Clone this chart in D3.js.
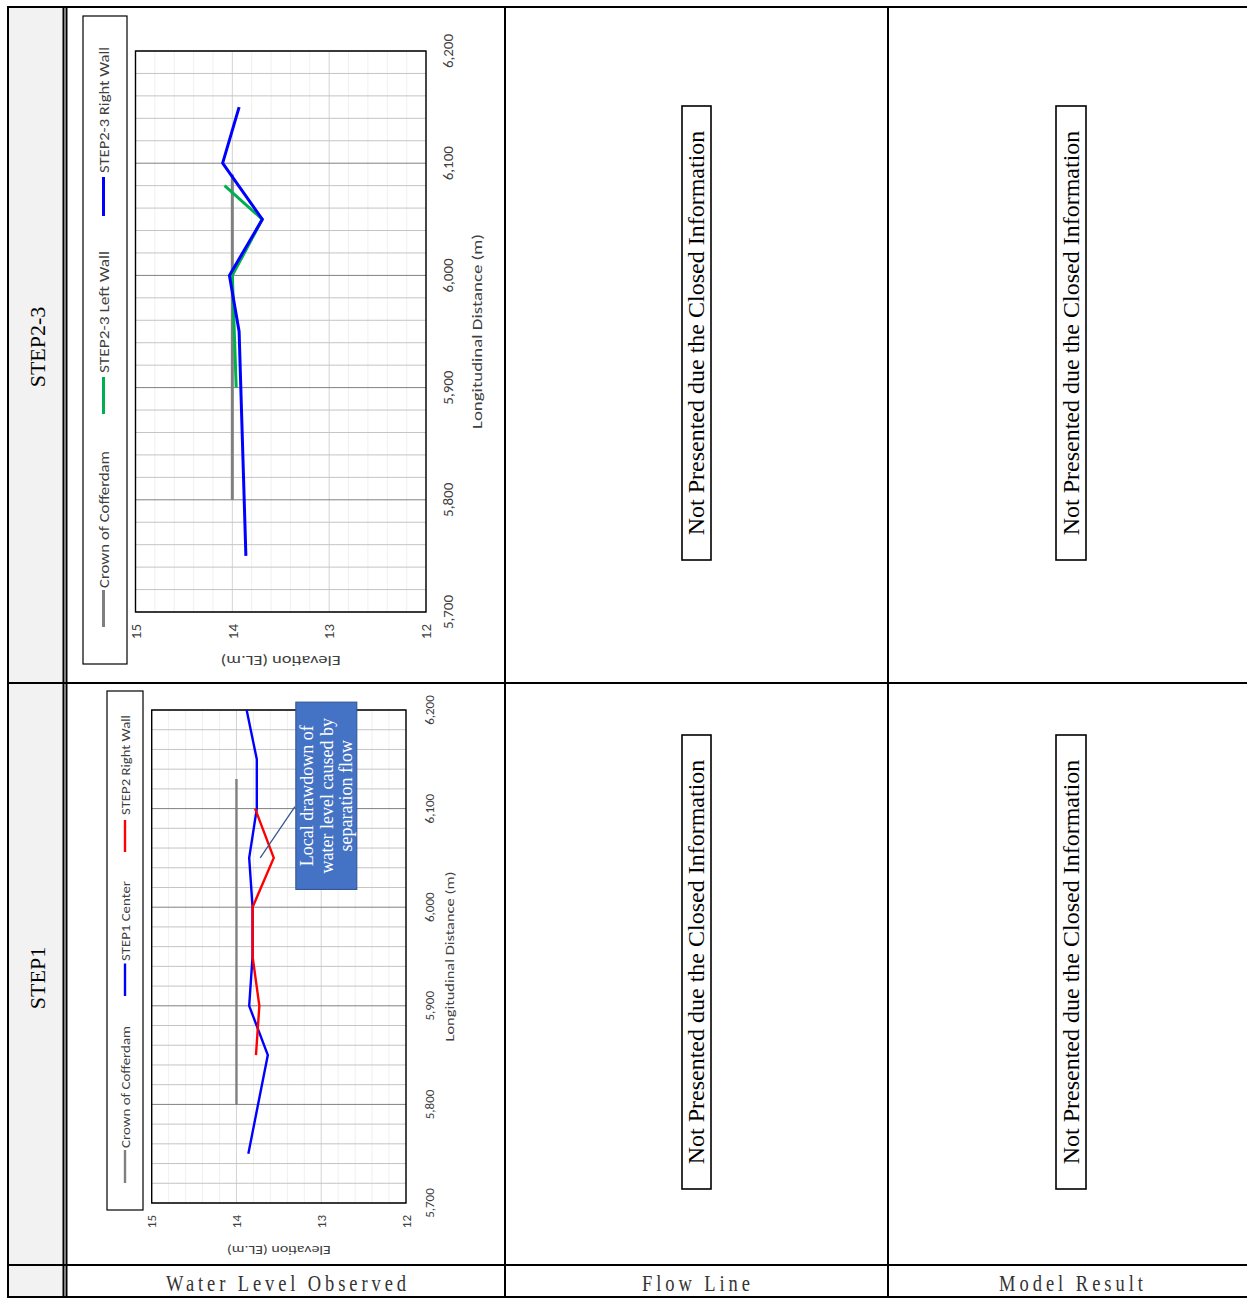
<!DOCTYPE html>
<html>
<head>
<meta charset="utf-8">
<script src="https://cdn.jsdelivr.net/npm/d3@7"></script>
<style>
body { margin: 0; background: #fff; }
svg { display: block; }
</style>
</head>
<body>
<div id="container"></div>
<script>
////////// DATA

var distTicks = [5700, 5800, 5900, 6000, 6100, 6200]; // longitudinal distance (m)
var elevTicks = [12, 13, 14, 15]; // elevation (EL.m)

// STEP2-3 chart: [distance, elevation]
var step23Crown = [[5800, 14.0], [6090, 14.0]];
var step23LeftWall = [[5900, 13.96], [6000, 14.0], [6050, 13.69], [6080, 14.08]];
var step23RightWall = [[5750, 13.86], [5950, 13.93], [6000, 14.03], [6050, 13.69], [6100, 14.1], [6150, 13.93]];
var step23Names = ["Crown of Cofferdam", "STEP2-3 Left Wall", "STEP2-3 Right Wall"];

// STEP1 chart
var step1Crown = [[5800, 14.0], [6130, 14.0]];
var step1Center = [[5750, 13.86], [5850, 13.63], [5900, 13.85], [5950, 13.81], [6000, 13.81], [6050, 13.85], [6100, 13.76], [6150, 13.76], [6200, 13.88]];
var step2RightWall = [[5850, 13.77], [5900, 13.73], [5950, 13.81], [6000, 13.81], [6050, 13.56], [6100, 13.78]];
var step1Names = ["Crown of Cofferdam", "STEP1 Center", "STEP2 Right Wall"];

var noteLines = ["Local drawdown of", "water level caused by", "separation flow"];
var notePoint = [6050, 13.72]; // where the callout points

// table texts
var rowLabels = ["STEP2-3", "STEP1"];
var colLabels = ["Water Level Observed", "Flow Line", "Model Result"];
var closedText = "Not Presented due the Closed Information";

var cGray = "#7f7f7f", cGreen = "#00b050", cBlue = "#0000ff", cRed = "#ff0000";
var chartFont = "Carlito, 'Open Sans', 'Noto Sans', sans-serif";
var serifFont = "'Liberation Serif', 'DejaVu Serif', serif";

////////// TABLE

var svg = d3.select("#container").append("svg")
	.attr("width", 1247)
	.attr("height", 1298);

svg.append("rect") // gray header column
	.attr("x", 8).attr("y", 7)
	.attr("width", 55).attr("height", 1290)
	.attr("fill", "#f2f2f2");

function tableLine(x1, y1, x2, y2)
{
	svg.append("line")
		.attr("x1", x1).attr("y1", y1).attr("x2", x2).attr("y2", y2)
		.style("stroke", "#000")
		.style("stroke-width", 2);
}

////////// CHARTS (drawn unrotated, then turned -90 degrees)

function drawChart(c)
{
	var g = svg.append("g").attr("transform", "translate(" + c.tx + "," + c.ty + ") rotate(-90)");
	var x = d3.scaleLinear().domain([5700, 6200]).range(c.xRange);
	var y = d3.scaleLinear().domain([12, 15]).range(c.yRange);
	var xL = c.xRange[0], xR = c.xRange[1], yT = c.yRange[1], yB = c.yRange[0];
	function isWhole(t, step) { return Math.abs(t / step - Math.round(t / step)) < 1e-6; }

	g.append("rect")
		.attr("x", xL).attr("y", yT).attr("width", xR - xL).attr("height", yB - yT)
		.attr("fill", "#fff");

	// elevation gridlines (0.2 minor, 1 major)
	g.selectAll(".eGrid").data(y.ticks(15)).enter().append("line")
		.attr("class", "eGrid")
		.attr("x1", xL).attr("x2", xR)
		.attr("y1", function(d) { return y(d); })
		.attr("y2", function(d) { return y(d); })
		.style("stroke", function(d) { return isWhole(d, 1) ? "#d4d4d4" : "#f0f0f0"; })
		.style("stroke-width", 1);

	// distance gridlines (20 minor, 100 major)
	g.selectAll(".dGrid").data(x.ticks(25)).enter().append("line")
		.attr("class", "dGrid")
		.attr("y1", yT).attr("y2", yB)
		.attr("x1", function(d) { return x(d); })
		.attr("x2", function(d) { return x(d); })
		.style("stroke", function(d) { return isWhole(d, 100) ? "#808080" : "#c4c4c4"; })
		.style("stroke-width", 1);

	g.append("rect")
		.attr("x", xL).attr("y", yT).attr("width", xR - xL).attr("height", yB - yT)
		.attr("fill", "none")
		.style("stroke", "#000")
		.style("stroke-width", 1.4);

	// series
	var line = d3.line().x(function(d) { return x(d[0]); }).y(function(d) { return y(d[1]); });
	c.series.forEach(function(s)
	{
		g.append("path")
			.attr("d", line(s.data))
			.attr("fill", "none")
			.style("stroke", s.color)
			.style("stroke-width", c.lineW)
			.style("stroke-linejoin", "round");
	});

	// distance tick labels
	g.selectAll(".dLabel").data(distTicks).enter().append("text")
		.attr("class", "dLabel")
		.attr("x", function(d) { return x(d); })
		.attr("y", c.distLabelY)
		.text(d3.format(","))
		.style("font-family", chartFont)
		.style("font-size", c.font + "px")
		.style("fill", "#404040")
		.style("text-anchor", "middle");

	// elevation tick labels
	g.selectAll(".eLabel").data(elevTicks).enter().append("text")
		.attr("class", "eLabel")
		.attr("x", c.elevLabelX)
		.attr("y", function(d) { return y(d); })
		.attr("dy", "0.35em")
		.text(function(d) { return d; })
		.style("font-family", chartFont)
		.style("font-size", c.font + "px")
		.style("fill", "#404040")
		.style("text-anchor", "end");

	// axis titles
	g.append("text")
		.attr("x", (xL + xR) / 2).attr("y", c.distTitleY)
		.attr("textLength", c.distTitleLen).attr("lengthAdjust", "spacingAndGlyphs")
		.text("Longitudinal Distance (m)")
		.style("font-family", chartFont).style("font-size", c.font + "px")
		.style("fill", "#404040").style("text-anchor", "middle");

	g.append("text")
		.attr("transform", "translate(" + c.elevTitleX + "," + ((yT + yB) / 2) + ") rotate(-90)")
		.attr("textLength", c.elevTitleLen).attr("lengthAdjust", "spacingAndGlyphs")
		.text("Elevation (EL.m)")
		.style("font-family", chartFont).style("font-size", c.font + "px")
		.style("fill", "#404040").style("text-anchor", "middle");

	// legend
	var L = c.legend;
	g.append("rect")
		.attr("x", L.x).attr("y", L.y).attr("width", L.w).attr("height", L.h)
		.attr("fill", "#fff")
		.style("stroke", "#000").style("stroke-width", 1.2);
	c.series.forEach(function(s, i)
	{
		var it = L.items[i];
		g.append("line")
			.attr("x1", it[0]).attr("x2", it[1]).attr("y1", L.cy).attr("y2", L.cy)
			.style("stroke", s.color).style("stroke-width", c.lineW);
		g.append("text")
			.attr("x", it[2]).attr("y", L.cy).attr("dy", "0.35em")
			.attr("textLength", it[3]).attr("lengthAdjust", "spacingAndGlyphs")
			.text(s.name)
			.style("font-family", chartFont).style("font-size", c.font + "px")
			.style("fill", "#404040");
	});

	return { g: g, x: x, y: y };
}

// STEP2-3 (top row)
drawChart({
	tx: 67, ty: 683,
	xRange: [71, 632], yRange: [359, 68.5],
	lineW: 3, font: 15,
	distLabelY: 386, elevLabelX: 59,
	distTitleY: 415, distTitleLen: 195,
	elevTitleX: 27, elevTitleLen: 120,
	legend: { x: 19, y: 16, w: 648, h: 44, cy: 36.5,
		items: [[56, 93, 95, 137], [269, 306, 310, 122], [467, 506, 510, 126]] },
	series: [
		{ data: step23Crown, color: cGray, name: step23Names[0] },
		{ data: step23LeftWall, color: cGreen, name: step23Names[1] },
		{ data: step23RightWall, color: cBlue, name: step23Names[2] }]
});

// STEP1 (second row)
var ch1 = drawChart({
	tx: 67, ty: 1265,
	xRange: [62, 555], yRange: [339, 84.7],
	lineW: 2.4, font: 13,
	distLabelY: 367, elevLabelX: 50,
	distTitleY: 387, distTitleLen: 170,
	elevTitleX: 19, elevTitleLen: 104,
	legend: { x: 55, y: 40, w: 519, h: 36, cy: 58,
		items: [[82, 115, 117, 122], [269, 301.5, 304, 80], [413, 445, 450, 100]] },
	series: [
		{ data: step1Crown, color: cGray, name: step1Names[0] },
		{ data: step1Center, color: cBlue, name: step1Names[1] },
		{ data: step2RightWall, color: cRed, name: step1Names[2] }]
});

// callout in the STEP1 chart
(function()
{
	var g = ch1.g, x = ch1.x, y = ch1.y;
	g.append("line")
		.attr("x1", x(6102)).attr("y1", y(13.31))
		.attr("x2", x(notePoint[0])).attr("y2", y(notePoint[1]))
		.style("stroke", "#2f528f").style("stroke-width", 1.2);
	var bx0 = x(6018), bx1 = x(6208), by0 = y(13.30), by1 = y(12.58);
	g.append("rect")
		.attr("x", bx0).attr("y", by0).attr("width", bx1 - bx0).attr("height", by1 - by0)
		.attr("fill", "#4472c4")
		.style("stroke", "#2f528f").style("stroke-width", 1);
	g.selectAll(".note").data(noteLines).enter().append("text")
		.attr("class", "note")
		.attr("x", (bx0 + bx1) / 2)
		.attr("y", function(d, i) { return by0 + 17.5 + i * 19.5; })
		.text(function(d) { return d; })
		.style("font-family", serifFont).style("font-size", "18px")
		.style("fill", "#fff").style("text-anchor", "middle");
})();

////////// TABLE LINES AND TEXTS

tableLine(8, 7, 1247, 7);
tableLine(8, 1297, 1247, 1297);
tableLine(8, 683, 1247, 683);
tableLine(8, 1265, 1247, 1265);
tableLine(8, 6, 8, 1298);
tableLine(63.5, 7, 63.5, 1297);
tableLine(66.5, 7, 66.5, 1297);
tableLine(505, 7, 505, 1297);
tableLine(888, 7, 888, 1297);

var rowCenters = [347, 978];
svg.selectAll(".rowLabel").data(rowLabels).enter().append("text")
	.attr("class", "rowLabel")
	.attr("transform", function(d, i) { return "translate(45," + rowCenters[i] + ") rotate(-90)"; })
	.text(function(d) { return d; })
	.style("font-family", serifFont).style("font-size", "22px")
	.style("fill", "#000").style("text-anchor", "middle");

// column captions: tall, narrow, evenly spaced like a half-width Mincho face
var colCenters = [286, 696, 1071];
svg.selectAll(".colLabel").data(colLabels).enter().append("text")
	.attr("class", "colLabel")
	.attr("transform", function(d, i) { return "translate(" + colCenters[i] + ",1291) scale(1,1.3)"; })
	.attr("textLength", function(d) { return d.length * 12; })
	.attr("lengthAdjust", "spacing")
	.text(function(d) { return d; })
	.style("font-family", serifFont)
	.style("font-size", "18.5px")
	.style("fill", "#333").style("text-anchor", "middle");

// "Not Presented" boxes in Flow Line and Model Result columns
var boxCols = [[682, 711], [1056, 1086]];
var boxRows = [[106, 560], [735, 1189]];
boxRows.forEach(function(r)
{
	boxCols.forEach(function(cc)
	{
		svg.append("rect")
			.attr("x", cc[0]).attr("y", r[0])
			.attr("width", cc[1] - cc[0]).attr("height", r[1] - r[0])
			.attr("fill", "#fff")
			.style("stroke", "#000").style("stroke-width", 1.6);
		svg.append("text")
			.attr("transform", "translate(" + ((cc[0] + cc[1]) / 2 + 7.5) + "," + ((r[0] + r[1]) / 2) + ") rotate(-90)")
			.text(closedText)
			.style("font-family", serifFont).style("font-size", "24px")
			.style("fill", "#000").style("text-anchor", "middle");
	});
});
</script>
</body>
</html>
